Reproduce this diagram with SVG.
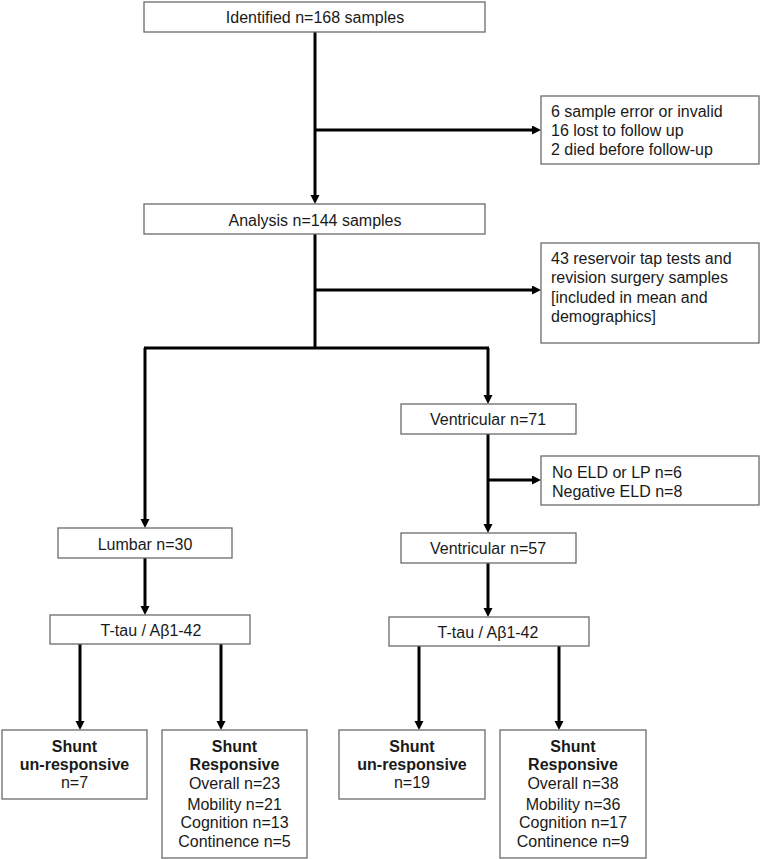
<svg xmlns="http://www.w3.org/2000/svg" width="761" height="859" viewBox="0 0 761 859">
<defs>
<marker id="ah" markerUnits="userSpaceOnUse" markerWidth="10" markerHeight="10" refX="0" refY="4.5" orient="auto">
<path d="M0,0 L9,4.5 L0,9 z" fill="#000"/>
</marker>
<style>
.box{fill:#fff;stroke:#6a6a6a;stroke-width:1.3}
.t{font-family:"Liberation Sans",Arial,sans-serif;font-size:16px;fill:#1a1a1a}
.c{text-anchor:middle}
.b{font-weight:bold}
.con path{fill:none;stroke:#000;stroke-width:3}
</style>
</defs>
<rect width="761" height="859" fill="#fff"/>
<g class="con" id="connectors">
<path d="M315,32 V195" marker-end="url(#ah)"/>
<path d="M315,130 H532" marker-end="url(#ah)"/>
<path d="M315,234 V348"/>
<path d="M315,290 H532" marker-end="url(#ah)"/>
<path d="M144,348 H489"/>
<path d="M145,348 V519" marker-end="url(#ah)"/>
<path d="M488,348 V395" marker-end="url(#ah)"/>
<path d="M488,434 V524" marker-end="url(#ah)"/>
<path d="M488,480 H532" marker-end="url(#ah)"/>
<path d="M488,563 V608" marker-end="url(#ah)"/>
<path d="M145,558 V606" marker-end="url(#ah)"/>
<path d="M80,644 V721" marker-end="url(#ah)"/>
<path d="M221,644 V721" marker-end="url(#ah)"/>
<path d="M419,646 V721" marker-end="url(#ah)"/>
<path d="M559,646 V721" marker-end="url(#ah)"/>
</g>
<g id="identified"><rect class="box" x="144" y="2" width="341" height="30"/><text class="t c" x="315" y="23">Identified n=168 samples</text></g>
<g id="excluded1"><rect class="box" x="541" y="96" width="218" height="68"/>
<text class="t" x="551" y="117">6 sample error or invalid</text>
<text class="t" x="551" y="136">16 lost to follow up</text>
<text class="t" x="551" y="155">2 died before follow-up</text></g>
<g id="analysis"><rect class="box" x="144" y="204" width="341" height="30"/><text class="t c" x="315" y="226">Analysis n=144 samples</text></g>
<g id="excluded2"><rect class="box" x="541" y="243" width="218" height="100"/>
<text class="t" x="551" y="264">43 reservoir tap tests and</text>
<text class="t" x="551" y="283">revision surgery samples</text>
<text class="t" x="551" y="303">[included in mean and</text>
<text class="t" x="551" y="322">demographics]</text></g>
<g id="ventricular71"><rect class="box" x="401" y="404" width="175" height="30"/><text class="t c" x="488" y="425">Ventricular n=71</text></g>
<g id="excluded3"><rect class="box" x="541" y="456" width="218" height="49"/>
<text class="t" x="552" y="478">No ELD or LP n=6</text>
<text class="t" x="552" y="497">Negative ELD n=8</text></g>
<g id="lumbar"><rect class="box" x="58" y="528" width="174" height="30"/><text class="t c" x="145" y="550">Lumbar n=30</text></g>
<g id="ventricular57"><rect class="box" x="401" y="533" width="175" height="30"/><text class="t c" x="488" y="554">Ventricular n=57</text></g>
<g id="ttau-left"><rect class="box" x="50" y="615" width="200" height="29"/><text class="t c" x="151" y="636">T-tau / Aβ1-42</text></g>
<g id="ttau-right"><rect class="box" x="389" y="617" width="200" height="29"/><text class="t c" x="488" y="638">T-tau / Aβ1-42</text></g>
<g id="unresponsive-left"><rect class="box" x="2" y="730" width="145" height="69"/>
<text class="t c b" x="74.5" y="752">Shunt</text>
<text class="t c b" x="74.5" y="770">un-responsive</text>
<text class="t c" x="74.5" y="788">n=7</text></g>
<g id="responsive-left"><rect class="box" x="162" y="730" width="145" height="128"/>
<text class="t c b" x="234.5" y="752">Shunt</text>
<text class="t c b" x="234.5" y="770">Responsive</text>
<text class="t c" x="234.5" y="789">Overall n=23</text>
<text class="t c" x="234.5" y="810">Mobility n=21</text>
<text class="t c" x="234.5" y="828">Cognition n=13</text>
<text class="t c" x="234.5" y="847">Continence n=5</text></g>
<g id="unresponsive-right"><rect class="box" x="339" y="730" width="146" height="69"/>
<text class="t c b" x="412" y="752">Shunt</text>
<text class="t c b" x="412" y="770">un-responsive</text>
<text class="t c" x="412" y="788">n=19</text></g>
<g id="responsive-right"><rect class="box" x="500" y="730" width="146" height="128"/>
<text class="t c b" x="573" y="752">Shunt</text>
<text class="t c b" x="573" y="770">Responsive</text>
<text class="t c" x="573" y="789">Overall n=38</text>
<text class="t c" x="573" y="810">Mobility n=36</text>
<text class="t c" x="573" y="828">Cognition n=17</text>
<text class="t c" x="573" y="847">Continence n=9</text></g>
</svg>
